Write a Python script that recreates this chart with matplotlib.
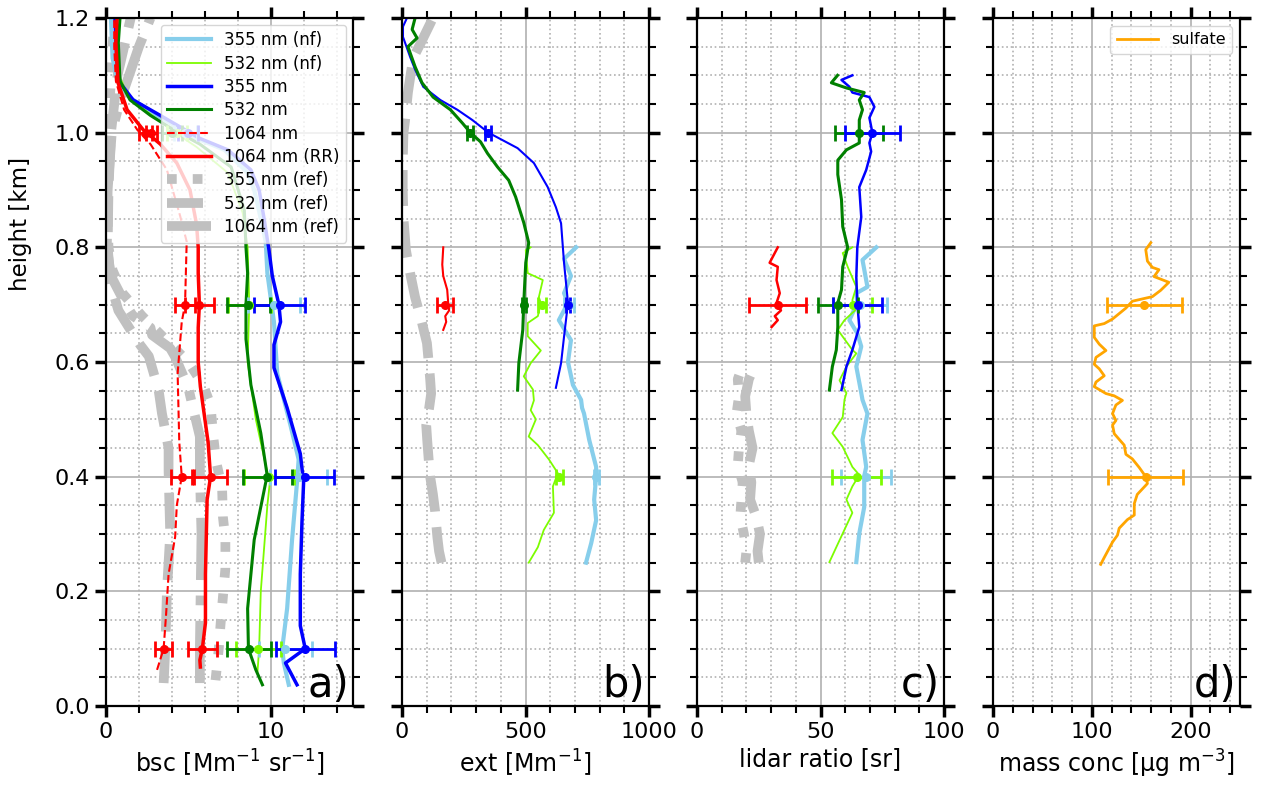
import matplotlib
matplotlib.use('Agg')
import matplotlib.pyplot as plt
from matplotlib.ticker import MultipleLocator, FormatStrFormatter

# ================= panel a: backscatter [Mm-1 sr-1] =================
a_355nf_h = [0.037, 0.075, 0.10, 0.17, 0.29, 0.39, 0.43, 0.49, 0.58, 0.67, 0.755, 0.81, 0.85, 0.90, 0.93, 0.97, 0.99, 1.01, 1.03, 1.06, 1.09, 1.13, 1.2]
a_355nf_v = [11.1, 10.8, 10.7, 11.0, 11.3, 11.6, 11.7, 11.2, 10.4, 10.2, 9.8, 9.7, 9.4, 9.0, 8.6, 7.2, 5.5, 4.3, 3.1, 1.5, 0.7, 0.4, 0.3]
a_532nf_h = [0.06, 0.10, 0.20, 0.35, 0.39, 0.42, 0.5, 0.6, 0.7, 0.8, 0.86, 0.93, 0.975, 1.0, 1.03, 1.06, 1.1, 1.15, 1.2]
a_532nf_v = [9.2, 9.3, 9.4, 9.8, 9.95, 9.7, 9.1, 8.6, 8.7, 8.6, 8.3, 7.4, 5.5, 4.2, 2.8, 1.4, 0.8, 0.7, 0.7]
a_355_h = [0.037, 0.075, 0.10, 0.14, 0.23, 0.32, 0.39, 0.44, 0.52, 0.59, 0.63, 0.67, 0.70, 0.75, 0.795, 0.85, 0.90, 0.935, 0.97, 0.99, 1.01, 1.03, 1.057, 1.087, 1.127, 1.197]
a_355_v = [11.6, 10.9, 12.1, 11.8, 11.8, 11.9, 12.0, 11.8, 11.0, 10.2, 10.2, 10.6, 10.5, 10.1, 9.9, 9.6, 9.3, 8.8, 7.4, 5.7, 4.5, 3.3, 1.65, 0.85, 0.65, 0.55]
a_532_h = [0.037, 0.063, 0.10, 0.17, 0.29, 0.39, 0.40, 0.476, 0.56, 0.64, 0.70, 0.755, 0.80, 0.865, 0.94, 0.98, 1.005, 1.03, 1.057, 1.09, 1.157, 1.2]
a_532_v = [9.5, 9.1, 8.65, 8.6, 9.0, 9.7, 9.8, 9.4, 8.8, 8.5, 8.5, 8.6, 8.5, 8.4, 7.6, 5.7, 4.1, 2.7, 1.46, 0.85, 0.75, 0.85]
a_1064_h = [0.063, 0.10, 0.16, 0.23, 0.295, 0.35, 0.40, 0.46, 0.58, 0.67, 0.70, 0.755, 0.81, 0.855, 0.935, 0.98, 1.005, 1.04, 1.09, 1.15, 1.2]
a_1064_v = [3.1, 3.5, 3.65, 3.8, 4.2, 4.3, 4.6, 4.45, 4.35, 4.6, 4.8, 4.85, 4.9, 4.5, 3.7, 2.7, 1.9, 1.1, 0.6, 0.5, 0.5]
a_1064rr_h = [0.068, 0.08, 0.10, 0.145, 0.23, 0.36, 0.40, 0.46, 0.557, 0.60, 0.66, 0.70, 0.755, 0.80, 0.84, 0.90, 0.947, 0.98, 1.005, 1.04, 1.087, 1.157, 1.2]
a_1064rr_v = [5.73, 5.7, 5.85, 6.04, 6.04, 6.14, 6.35, 6.2, 5.73, 5.6, 5.6, 5.67, 5.6, 5.6, 5.5, 5.1, 4.3, 3.3, 2.26, 1.28, 0.73, 0.6, 0.67]
a_ref355_h = [0.045, 0.1, 0.14, 0.19, 0.24, 0.29, 0.33, 0.38, 0.425, 0.473, 0.525, 0.56, 0.6, 0.64, 0.68, 0.72, 0.76, 0.8, 0.9, 1.0, 1.1, 1.2]
a_ref355_v = [6.65, 6.85, 6.95, 7.1, 7.25, 7.25, 7.1, 7.05, 6.7, 6.5, 6.35, 5.9, 5.0, 3.6, 2.2, 1.0, 0.4, 0.15, 0.05, 0.15, 0.3, 0.5]
a_ref532_h = [0.04, 0.1, 0.2, 0.3, 0.41, 0.45, 0.51, 0.55, 0.61, 0.63, 0.66, 0.69, 0.72, 0.75, 0.8, 0.9, 1.0, 1.1, 1.15, 1.2]
a_ref532_v = [3.5, 3.6, 3.7, 3.9, 3.8, 3.8, 3.4, 3.2, 2.6, 2.07, 1.4, 0.75, 0.45, 0.25, 0.1, 0.15, 0.3, 0.7, 1.1, 1.5]
a_ref1064_h = [0.04, 0.1, 0.2, 0.3, 0.41, 0.47, 0.53, 0.555, 0.609, 0.624, 0.647, 0.66, 0.68, 0.70, 0.75, 0.8, 0.9, 1.0, 1.05, 1.1, 1.15, 1.2]
a_ref1064_v = [5.7, 5.7, 5.75, 5.8, 5.7, 5.7, 5.2, 5.0, 4.2, 3.9, 2.8, 2.7, 1.65, 1.2, 0.3, 0.05, 0.1, 0.35, 0.8, 1.4, 2.0, 2.7]

a_err_h = [0.1, 0.4, 0.7, 1.0]
a_355nf_c = [10.9, 11.7, 10.2, 4.8]
a_355nf_e = [1.6, 1.75, 1.6, 0.7]
a_532nf_c = [9.25, 9.9, 8.7, 4.3]
a_532nf_e = [1.35, 1.5, 1.3, 0.6]
a_355_c = [12.1, 12.07, 10.55, 5.0]
a_355_e = [1.8, 1.8, 1.55, 0.6]
a_532_c = [8.7, 9.8, 8.65, 4.0]
a_532_e = [1.35, 1.5, 1.3, 0.6]
a_1064_c = [3.5, 4.6, 4.8, 2.4]
a_1064_e = [0.5, 0.65, 0.6, 0.4]
a_1064rr_c = [5.85, 6.35, 5.67, 2.75]
a_1064rr_e = [0.9, 1.0, 0.9, 0.35]

# ================= panel b: extinction [Mm-1] =================
b_355nf_h = [0.25, 0.284, 0.324, 0.36, 0.40, 0.417, 0.464, 0.51, 0.52, 0.534, 0.56, 0.60, 0.638, 0.673, 0.703, 0.72, 0.75, 0.78, 0.80]
b_355nf_v = [745, 766, 786, 778, 786, 786, 758, 737, 729, 725, 692, 672, 684, 635, 672, 656, 684, 656, 705]
b_532nf_h = [0.25, 0.277, 0.307, 0.337, 0.383, 0.406, 0.43, 0.455, 0.47, 0.50, 0.516, 0.533, 0.552, 0.575, 0.598, 0.62, 0.645, 0.668, 0.68, 0.703, 0.713, 0.743, 0.755, 0.795, 0.80]
b_532nf_v = [513, 550, 574, 615, 611, 631, 595, 550, 513, 542, 521, 534, 530, 493, 521, 562, 509, 509, 550, 562, 554, 570, 509, 501, 521]
b_355_h = [0.555, 0.598, 0.644, 0.703, 0.773, 0.842, 0.87, 0.905, 0.947, 0.973, 0.984, 1.0, 1.022, 1.04, 1.057, 1.08, 1.11, 1.132, 1.167, 1.185, 1.2]
b_355_v = [623, 644, 656, 672, 656, 644, 623, 590, 534, 468, 420, 350, 285, 224, 155, 86, 53, 33, 4, 4, 20]
b_532_h = [0.551, 0.598, 0.656, 0.703, 0.773, 0.808, 0.843, 0.888, 0.917, 0.94, 0.964, 0.984, 1.0, 1.017, 1.04, 1.062, 1.087, 1.115, 1.15, 1.165, 1.18, 1.2]
b_532_v = [468, 473, 489, 493, 501, 513, 493, 460, 432, 387, 346, 318, 277, 244, 196, 126, 81, 53, 24, 61, 41, 53]
b_1064_h = [0.656, 0.67, 0.68, 0.69, 0.703, 0.726, 0.75, 0.77, 0.80]
b_1064_v = [167, 179, 175, 191, 187, 183, 167, 163, 167]
b_ref_h = [0.25, 0.27, 0.295, 0.32, 0.34, 0.37, 0.40, 0.43, 0.464, 0.49, 0.52, 0.545, 0.57, 0.60, 0.633, 0.67, 0.713, 0.755, 0.795, 0.85, 0.9, 0.95, 1.0, 1.02, 1.07, 1.13, 1.16, 1.19, 1.2]
b_ref_v = [160, 150, 143, 138, 134, 125, 114, 108, 102, 98, 110, 118, 114, 108, 101, 80, 53, 33, 16, 6, 3, 3, 6, 12, 24, 45, 80, 114, 125]
b_err_nf_h = [0.4, 0.7]
b_355nf_c = [786, 675]
b_355nf_e = [10, 20]
b_532nf_c = [637, 566]
b_532nf_e = [14, 16]
b_err_h = [0.7, 1.0]
b_355_c = [672, 350]
b_355_e = [8, 12]
b_532_c = [493, 277]
b_532_e = [8, 12]
b_1064_c = [175]
b_1064_e = [33]

# ================= panel c: lidar ratio [sr] =================
c_355nf_h = [0.251, 0.301, 0.347, 0.401, 0.417, 0.464, 0.51, 0.534, 0.546, 0.592, 0.627, 0.65, 0.673, 0.703, 0.72, 0.731, 0.778, 0.80]
c_355nf_v = [64.5, 65.7, 67.7, 67.7, 68.5, 67.0, 69.0, 67.0, 66.5, 64.5, 66.5, 64.9, 61.7, 64.9, 64.5, 69.0, 67.0, 72.6]
c_532nf_h = [0.251, 0.277, 0.301, 0.337, 0.36, 0.383, 0.403, 0.417, 0.452, 0.476, 0.504, 0.534, 0.546, 0.568, 0.592, 0.615, 0.621, 0.656, 0.673, 0.69, 0.708, 0.731, 0.766, 0.79, 0.80]
c_532nf_v = [53.6, 56.4, 59.0, 62.9, 60.5, 62.9, 65.7, 62.9, 59.0, 54.8, 59.0, 59.7, 60.5, 57.7, 60.5, 64.5, 62.9, 57.0, 59.7, 64.0, 62.9, 64.5, 61.0, 59.0, 62.9]
c_355_h = [0.551, 0.592, 0.621, 0.661, 0.703, 0.748, 0.80, 0.853, 0.905, 0.935, 0.967, 0.982, 1.0, 1.026, 1.045, 1.062, 1.07, 1.08, 1.092, 1.10]
c_355_v = [58.5, 60.5, 62.9, 65.7, 64.9, 64.5, 64.9, 66.5, 65.7, 68.5, 70.5, 69.8, 71.0, 69.8, 71.8, 69.8, 62.9, 61.7, 58.5, 62.9]
c_532_h = [0.551, 0.592, 0.621, 0.661, 0.703, 0.726, 0.766, 0.80, 0.836, 0.883, 0.927, 0.952, 0.97, 0.982, 1.0, 1.022, 1.04, 1.057, 1.07, 1.078, 1.087, 1.10]
c_532_v = [53.6, 54.8, 56.4, 57.0, 57.0, 58.5, 59.0, 61.0, 59.0, 58.5, 57.0, 57.0, 60.5, 65.7, 65.7, 65.7, 67.0, 65.7, 67.7, 60.5, 54.4, 56.9]
c_1064_h = [0.661, 0.673, 0.68, 0.69, 0.703, 0.72, 0.743, 0.766, 0.773, 0.80]
c_1064_v = [30.2, 32.7, 31.5, 34.0, 32.2, 33.5, 32.2, 32.7, 29.4, 32.7]
c_ref1_h = [0.25, 0.27, 0.30, 0.33, 0.36, 0.39, 0.42, 0.45, 0.48, 0.51, 0.54, 0.57, 0.60]
c_ref1_v = [19.5, 20.0, 19.0, 17.5, 18.0, 18.5, 16.5, 17.0, 18.0, 16.0, 17.0, 16.5, 19.0]
c_ref2_h = [0.25, 0.27, 0.30, 0.33, 0.36, 0.39, 0.42, 0.45, 0.48, 0.51, 0.54, 0.57, 0.60]
c_ref2_v = [25.0, 24.5, 25.5, 24.0, 21.5, 22.0, 21.0, 22.5, 21.0, 20.0, 19.5, 21.0, 24.0]
c_err_nf_h = [0.4, 0.7]
c_355nf_c = [68.5, 66.0]
c_355nf_e = [10.0, 11.0]
c_532nf_c = [64.7, 63.0]
c_532nf_e = [9.9, 8.0]
c_err_h = [0.7, 1.0]
c_355_c = [65.0, 71.0]
c_355_e = [10.0, 11.0]
c_532_c = [57.0, 65.5]
c_532_e = [8.0, 9.7]
c_1064_c = [32.6]
c_1064_e = [11.5]

# ================= panel d: mass concentration [ug m-3] =================
d_h = [0.247, 0.259, 0.275, 0.286, 0.298, 0.31, 0.325, 0.333, 0.353, 0.369, 0.388, 0.40, 0.416, 0.431, 0.439, 0.455, 0.475, 0.49, 0.498, 0.51, 0.525, 0.533, 0.541, 0.545, 0.557, 0.565, 0.576, 0.588, 0.596, 0.608, 0.62, 0.631, 0.643, 0.663, 0.667, 0.675, 0.694, 0.706, 0.714, 0.725, 0.739, 0.749, 0.761, 0.765, 0.776, 0.796, 0.808]
d_v = [109, 112.6, 117.6, 121, 126, 127.7, 136, 143, 143, 146, 156.3, 154.6, 148, 141, 134.5, 132.8, 122.7, 121, 124.4, 121, 124.4, 131, 122.7, 114.3, 102.5, 104.2, 112.6, 107.6, 102.5, 104.2, 114.3, 107.6, 102.5, 102.5, 112.6, 121, 134.5, 141, 161.3, 169.7, 178, 163, 168, 161.3, 156.3, 154.6, 159.7]
d_err_h = [0.4, 0.7]
d_err_c = [154.6, 153.0]
d_err_e = [38.0, 38.0]

# ================= styling =================
C355NF, C532NF, C355, C532, C1064, CREF, CSULF = 'skyblue', 'lawngreen', 'blue', 'green', 'red', 'silver', 'orange'

W, H = 1262, 785
fig = plt.figure(figsize=(W / 100, H / 100), dpi=100)
lefts = [106, 402, 697, 993]
axw = 247
bot, top = 706, 18
axes = [fig.add_axes([l / W, 1 - bot / H, axw / W, (bot - top) / H]) for l in lefts]


def style(ax, xmax, major, minor, label, tag, ylabels):
    ax.set_xlim(0, xmax)
    ax.set_ylim(0, 1.2)
    ax.xaxis.set_major_locator(MultipleLocator(major))
    ax.xaxis.set_minor_locator(MultipleLocator(minor))
    ax.yaxis.set_major_locator(MultipleLocator(0.2))
    ax.yaxis.set_minor_locator(MultipleLocator(0.05))
    ax.yaxis.set_major_formatter(FormatStrFormatter('%.1f'))
    ax.grid(True, which='major', color='#b0b0b0', lw=1.2, ls='-')
    ax.grid(True, which='minor', color='#b0b0b0', lw=1.2, ls=':')
    ax.set_axisbelow(True)
    ax.tick_params(which='both', direction='out', top=True, right=True, labelsize=16)
    ax.tick_params(which='major', length=8, width=2.5)
    ax.tick_params(which='minor', length=5, width=1.5)
    if not ylabels:
        ax.tick_params(labelleft=False)
    for s in ax.spines.values():
        s.set_linewidth(1.6)
    ax.set_xlabel(label, fontsize=17)
    ax.text(0.985, 0.0, tag, transform=ax.transAxes, ha='right', va='bottom', fontsize=30)


def eb(ax, c, h, e, color, ms=5.5):
    ax.errorbar(c, h, xerr=e, fmt='o', color=color, ms=ms, capsize=6, elinewidth=2, capthick=2)


# ---- panel a ----
ax = axes[0]
ax.plot(a_ref355_v, a_ref355_h, color=CREF, lw=7, ls=':', label='355 nm (ref)')
ax.plot(a_ref532_v, a_ref532_h, color=CREF, lw=7, ls='--', label='532 nm (ref)')
ax.plot(a_ref1064_v, a_ref1064_h, color=CREF, lw=7, ls='-.', label='1064 nm (ref)')
ax.plot(a_355nf_v, a_355nf_h, color=C355NF, lw=3, label='355 nm (nf)')
ax.plot(a_532nf_v, a_532nf_h, color=C532NF, lw=1.3, label='532 nm (nf)')
ax.plot(a_355_v, a_355_h, color=C355, lw=2.5, label='355 nm')
ax.plot(a_532_v, a_532_h, color=C532, lw=2.2, label='532 nm')
ax.plot(a_1064_v, a_1064_h, color=C1064, lw=1.5, ls='--', label='1064 nm')
ax.plot(a_1064rr_v, a_1064rr_h, color=C1064, lw=2.5, label='1064 nm (RR)')
eb(ax, a_355nf_c, a_err_h, a_355nf_e, C355NF)
eb(ax, a_532nf_c, a_err_h, a_532nf_e, C532NF)
eb(ax, a_532_c, a_err_h, a_532_e, C532)
eb(ax, a_355_c, a_err_h, a_355_e, C355)
eb(ax, a_1064_c, a_err_h, a_1064_e, C1064)
eb(ax, a_1064rr_c, a_err_h, a_1064rr_e, C1064)
handles, labels = ax.get_legend_handles_labels()
order = [3, 4, 5, 6, 7, 8, 0, 1, 2]
ax.legend([handles[i] for i in order], [labels[i] for i in order], loc='upper right',
          fontsize=12, handlelength=2.6, labelspacing=0.32, borderaxespad=0.4)
style(ax, 15, 10, 2, r'bsc [Mm$^{-1}$ sr$^{-1}$]', 'a)', True)
ax.set_ylabel('height [km]', fontsize=16.5)
ax.yaxis.set_label_coords(-0.30, 0.70)

# ---- panel b ----
ax = axes[1]
ax.plot(b_ref_v, b_ref_h, color=CREF, lw=7, ls='--')
ax.plot(b_355nf_v, b_355nf_h, color=C355NF, lw=3)
ax.plot(b_532nf_v, b_532nf_h, color=C532NF, lw=1.3)
ax.plot(b_355_v, b_355_h, color=C355, lw=1.5)
ax.plot(b_532_v, b_532_h, color=C532, lw=2.2)
ax.plot(b_1064_v, b_1064_h, color=C1064, lw=1.5)
eb(ax, b_355nf_c, b_err_nf_h, b_355nf_e, C355NF)
eb(ax, b_532nf_c, b_err_nf_h, b_532nf_e, C532NF)
eb(ax, b_532_c, b_err_h, b_532_e, C532)
eb(ax, b_355_c, b_err_h, b_355_e, C355)
eb(ax, b_1064_c, [0.7], b_1064_e, C1064)
style(ax, 1000, 500, 100, r'ext [Mm$^{-1}$]', 'b)', False)

# ---- panel c ----
ax = axes[2]
ax.plot(c_ref1_v, c_ref1_h, color=CREF, lw=7, ls=':')
ax.plot(c_ref2_v, c_ref2_h, color=CREF, lw=7, ls='--')
ax.plot(c_355nf_v, c_355nf_h, color=C355NF, lw=3)
ax.plot(c_532nf_v, c_532nf_h, color=C532NF, lw=1.3)
ax.plot(c_355_v, c_355_h, color=C355, lw=1.8)
ax.plot(c_532_v, c_532_h, color=C532, lw=2.2)
ax.plot(c_1064_v, c_1064_h, color=C1064, lw=1.8)
eb(ax, c_355nf_c, c_err_nf_h, c_355nf_e, C355NF)
eb(ax, c_532nf_c, c_err_nf_h, c_532nf_e, C532NF)
eb(ax, c_532_c, c_err_h, c_532_e, C532)
eb(ax, c_355_c, c_err_h, c_355_e, C355)
eb(ax, c_1064_c, [0.7], c_1064_e, C1064)
style(ax, 100, 50, 10, 'lidar ratio [sr]', 'c)', False)

# ---- panel d ----
ax = axes[3]
ax.plot(d_v, d_h, color=CSULF, lw=2, label='sulfate')
eb(ax, d_err_c, d_err_h, d_err_e, CSULF)
ax.legend(loc='upper right', fontsize=11.5, handlelength=2.6)
style(ax, 250, 100, 20, r'mass conc [$\mathrm{\mu}$g m$^{-3}$]', 'd)', False)

fig.savefig('out.png', dpi=100)
